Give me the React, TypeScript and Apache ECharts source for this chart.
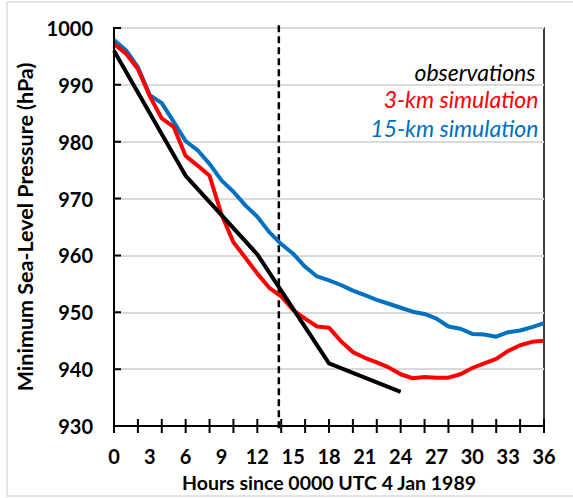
import React, { useEffect, useRef } from "react";
import * as echarts from "echarts";

const obsHours = [0, 6, 12, 18, 24];
const obsValues = [996, 974, 960.2, 941, 936];

const simHours = [0, 1, 2, 3, 4, 5, 6, 7, 8, 9, 10, 11, 12, 13, 14, 15, 16, 17, 18, 19, 20, 21, 22, 23, 24, 25, 26, 27, 28, 29, 30, 31, 32, 33, 34, 35, 36];
const sim3km = [997.2, 995.5, 992.8, 988, 984.1, 982.6, 977.5, 975.8, 974, 967.2, 962.3, 959.6, 956.8, 954.3, 952.8, 950.4, 948.9, 947.5, 947.3, 944.9, 943.0, 942.0, 941.2, 940.3, 939.1, 938.4, 938.6, 938.5, 938.5, 939.1, 940.2, 941.0, 941.8, 943.2, 944.2, 944.8, 945.0];
const sim15km = [997.9, 996.1, 993.1, 988.2, 986.8, 983.5, 980.1, 978.5, 976.1, 973.2, 971.2, 968.8, 966.8, 964.1, 962.0, 960.3, 958.0, 956.3, 955.6, 954.8, 953.8, 953.0, 952.2, 951.5, 950.8, 950.1, 949.7, 948.9, 947.5, 947.1, 946.2, 946.1, 945.7, 946.5, 946.8, 947.4, 948.1];

const xTickValues = [0, 2, 4, 6, 8, 10, 12, 14, 16, 18, 20, 22, 24, 26, 28, 30, 32, 34, 36];
const yTickValues = [930, 940, 950, 960, 970, 980, 990, 1000];

const dashedHour = 13.8;
const legendLabels = ["observations", "3-km simulation", "15-km simulation"];
const legendColors = ["#000000", "#FF0000", "#0070C0"];

const FONT = "Lato, 'Open Sans', sans-serif";

const X_MIN = 0;
const X_MAX = 36;
const Y_MIN = 930;
const Y_MAX = 1000;
const GRID = { left: 114, right: 29, top: 28, bottom: 72 };
const W = 573;
const H = 498;
const TICK_HALF_PX = 7;

export default function App() {
  const ref = useRef<HTMLDivElement>(null);
  useEffect(() => {
    document.body.style.margin = "0";
    if (!ref.current) return;
    const chart = echarts.init(ref.current, undefined, { renderer: "svg" });
    const pair = (xs: number[], ys: number[]) => xs.map((x, i) => [x, ys[i]]);

    // tick half-length (px) expressed in data units of each axis
    const dy = (TICK_HALF_PX * (Y_MAX - Y_MIN)) / (H - GRID.top - GRID.bottom);
    const dx = (TICK_HALF_PX * (X_MAX - X_MIN)) / (W - GRID.left - GRID.right);

    // one continuous path along each axis that crosses it at every tick value
    const xTickPath: number[][] = [];
    xTickValues.forEach((v) => {
      xTickPath.push([v, Y_MIN], [v, Y_MIN - dy], [v, Y_MIN + dy], [v, Y_MIN]);
    });
    const yTickPath: number[][] = [];
    yTickValues.forEach((v) => {
      yTickPath.push([X_MIN, v], [X_MIN - dx, v], [X_MIN + dx, v], [X_MIN, v]);
    });
    const tickSeries = (data: number[][]) => ({
      type: "line",
      data,
      showSymbol: false,
      clip: false,
      silent: true,
      z: 6,
      lineStyle: { color: "#000", width: 2, cap: "butt", join: "bevel" },
    });

    chart.setOption({
      animation: false,
      backgroundColor: "#ffffff",
      grid: {
        ...GRID,
        show: true,
        borderColor: "#000",
        borderWidth: 1.5,
        backgroundColor: "transparent",
      },
      xAxis: {
        type: "value",
        min: X_MIN,
        max: X_MAX,
        interval: 3,
        position: "bottom",
        name: "Hours since 0000 UTC 4 Jan 1989",
        nameLocation: "middle",
        nameGap: 46,
        nameTextStyle: { color: "#000", fontFamily: FONT, fontWeight: "bold", fontSize: 19.5 },
        axisLine: { show: true, onZero: false, lineStyle: { color: "#000", width: 2 } },
        axisTick: { show: false },
        axisLabel: { color: "#000", fontFamily: FONT, fontWeight: "bold", fontSize: 20, margin: 20 },
        splitLine: { show: false },
      },
      yAxis: {
        type: "value",
        min: Y_MIN,
        max: Y_MAX,
        interval: 10,
        position: "left",
        name: "Minimum Sea-Level Pressure (hPa)",
        nameLocation: "middle",
        nameGap: 68,
        nameTextStyle: { color: "#000", fontFamily: FONT, fontWeight: "bold", fontSize: 21.5 },
        axisLine: { show: true, onZero: false, lineStyle: { color: "#000", width: 2 } },
        axisTick: { show: false },
        axisLabel: {
          color: "#000",
          fontFamily: FONT,
          fontWeight: "bold",
          fontSize: 20,
          margin: 21,
          formatter: (v: number) => String(v),
        },
        splitLine: { show: true, lineStyle: { color: "#d9d9d9", width: 2 } },
      },
      graphic: [
        {
          type: "rect",
          shape: { x: 7, y: 2, width: 620, height: 494 },
          style: { fill: "none", stroke: "#dcdcdc", lineWidth: 1.5 },
          silent: true,
          z: -10,
        },
        ...legendLabels.map((t, i) => ({
          type: "text",
          x: [535.5, 538.5, 538.5][i],
          y: [72, 98.5, 128][i],
          style: {
            text: t,
            fill: legendColors[i],
            font: `italic 23px ${FONT}`,
            textAlign: "right",
            textVerticalAlign: "middle",
          },
          z: 10,
        })),
      ],
      series: [
        {
          type: "line",
          name: "15-km simulation",
          data: pair(simHours, sim15km),
          showSymbol: false,
          lineStyle: { color: "#0070C0", width: 4 },
          z: 3,
        },
        {
          type: "line",
          name: "3-km simulation",
          data: pair(simHours, sim3km),
          showSymbol: false,
          lineStyle: { color: "#FF0000", width: 4 },
          z: 4,
        },
        {
          type: "line",
          name: "observations",
          data: pair(obsHours, obsValues),
          showSymbol: false,
          lineStyle: { color: "#000000", width: 4 },
          z: 5,
        },
        {
          type: "line",
          name: "dashed",
          data: [
            [dashedHour, Y_MAX + 0.5],
            [dashedHour, Y_MIN - 0.9],
          ],
          showSymbol: false,
          clip: false,
          silent: true,
          lineStyle: { color: "#000", type: [7, 4], width: 2.5 },
          z: 2,
        },
        tickSeries(xTickPath),
        tickSeries(yTickPath),
      ],
    });

    return () => chart.dispose();
  }, []);
  return <div ref={ref} style={{ width: W, height: H }} />;
}
